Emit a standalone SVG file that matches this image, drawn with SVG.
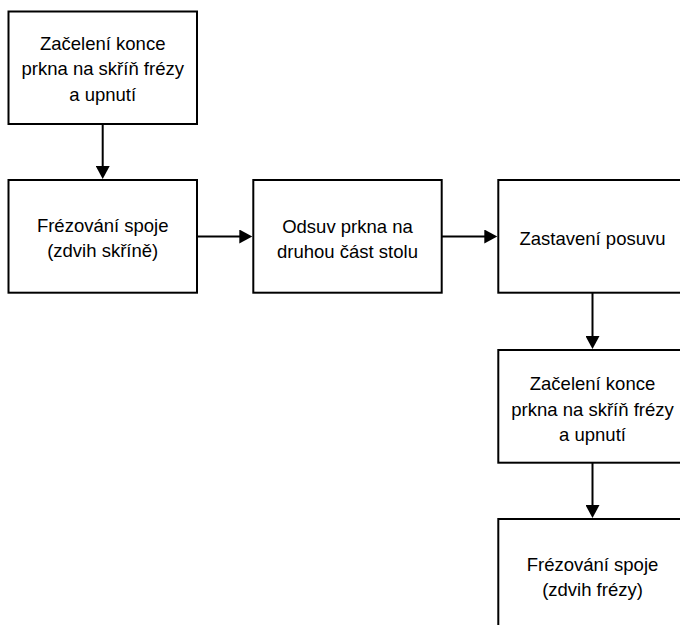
<svg xmlns="http://www.w3.org/2000/svg" width="680" height="625" viewBox="0 0 680 625">
  <style>
    .box { fill: #ffffff; stroke: #000000; stroke-width: 2; }
    .lbl { font-family: "Liberation Sans", Arial, sans-serif; font-size: 18.5px; fill: #000000; text-anchor: middle; }
    .conn { stroke: #000000; stroke-width: 2; fill: none; marker-end: url(#arrow); }
  </style>
  <defs>
    <marker id="arrow" markerUnits="userSpaceOnUse" markerWidth="14" markerHeight="14" refX="7" refY="7" orient="auto">
      <path d="M0,0 L13,7 L0,14 Z" fill="#000000"/>
    </marker>
  </defs>
  <rect width="680" height="625" fill="#ffffff"/>

  <g id="n1">
    <rect class="box" x="8.5" y="11.5" width="188.5" height="112.5"/>
    <text class="lbl" x="102.7" y="49.5">Začelení konce</text>
    <text class="lbl" x="102.7" y="75">prkna na skříň frézy</text>
    <text class="lbl" x="102.7" y="100.5">a upnutí</text>
  </g>

  <g id="n2">
    <rect class="box" x="8.5" y="180" width="188.5" height="112.7"/>
    <text class="lbl" x="102.7" y="232">Frézování spoje</text>
    <text class="lbl" x="102.7" y="257">(zdvih skříně)</text>
  </g>

  <g id="n3">
    <rect class="box" x="253.3" y="180" width="188.4" height="112.7"/>
    <text class="lbl" x="347.5" y="233">Odsuv prkna na</text>
    <text class="lbl" x="347.5" y="257.5">druhou část stolu</text>
  </g>

  <g id="n4">
    <rect class="box" x="498.3" y="180" width="188.5" height="112.7"/>
    <text class="lbl" x="592.5" y="244.5">Zastavení posuvu</text>
  </g>

  <g id="n5">
    <rect class="box" x="498.3" y="350" width="188.5" height="112.7"/>
    <text class="lbl" x="592.5" y="390">Začelení konce</text>
    <text class="lbl" x="592.5" y="415.5">prkna na skříň frézy</text>
    <text class="lbl" x="592.5" y="441">a upnutí</text>
  </g>

  <g id="n6">
    <rect class="box" x="498.3" y="519" width="188.5" height="112.7"/>
    <text class="lbl" x="592.5" y="571">Frézování spoje</text>
    <text class="lbl" x="592.5" y="596">(zdvih frézy)</text>
  </g>

  <g id="connectors">
    <line class="conn" x1="102.7" y1="124" x2="102.7" y2="173"/>
    <line class="conn" x1="197" y1="236.5" x2="246.3" y2="236.5"/>
    <line class="conn" x1="441.7" y1="236.5" x2="491.3" y2="236.5"/>
    <line class="conn" x1="592.5" y1="292.7" x2="592.5" y2="343"/>
    <line class="conn" x1="592.5" y1="462.7" x2="592.5" y2="512"/>
  </g>
</svg>
